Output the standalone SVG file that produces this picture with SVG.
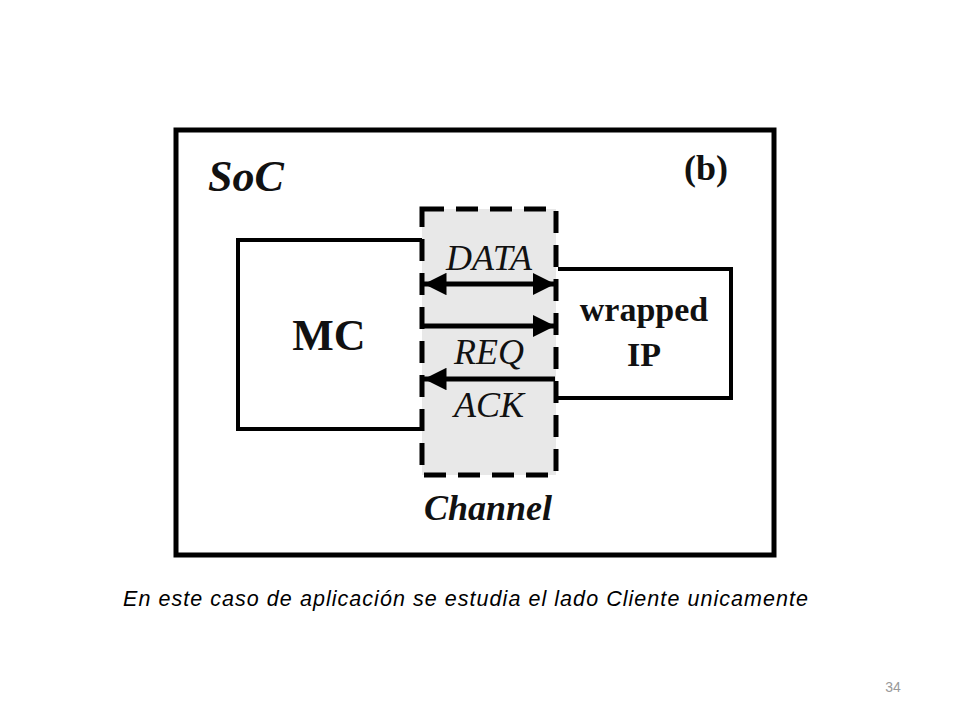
<svg xmlns="http://www.w3.org/2000/svg" width="960" height="720" viewBox="0 0 960 720">
<style>
.b{fill:none;stroke:#000;stroke-width:4}
.t{font-family:"Liberation Serif",serif;font-weight:bold;fill:#111}
.i{font-family:"Liberation Serif",serif;font-style:italic;fill:#111;font-size:36px;text-anchor:middle}
.w{stroke:#000;stroke-width:5}
</style>
<defs>
<marker id="a" viewBox="0 0 10 10" refX="10" refY="5" markerWidth="4.5" markerHeight="4.5" orient="auto-start-reverse"><path d="M0,0L10,5L0,10z" fill="#000"/></marker>
</defs>
<rect width="960" height="720" fill="#fff"/>
<g id="soc"><rect x="176" y="130" width="598" height="425" fill="#fff" stroke="#000" stroke-width="5"/>
<text x="208" y="191" class="t" font-size="44" font-style="italic">SoC</text>
<text x="684" y="180" class="t" font-size="36">(b)</text></g>
<g id="channel"><rect x="422" y="209" width="134" height="266" fill="#e8e8e8" stroke="#000" stroke-width="5" stroke-dasharray="22,12"/>
<text x="488" y="520" class="t" font-size="36" font-style="italic" text-anchor="middle">Channel</text></g>
<g id="mc"><path class="b" d="M422,240H238V429H422"/>
<text x="329" y="350" class="t" font-size="44" text-anchor="middle">MC</text></g>
<g id="ip"><path class="b" d="M558,269H731V398H558"/>
<text x="644" y="321" class="t" font-size="34" text-anchor="middle">wrapped</text>
<text x="644" y="366" class="t" font-size="34" text-anchor="middle">IP</text></g>
<g id="connectors">
<line class="w" x1="424" y1="284" x2="555" y2="284" marker-start="url(#a)" marker-end="url(#a)"/>
<line class="w" x1="424" y1="326" x2="555" y2="326" marker-end="url(#a)"/>
<line class="w" x1="555" y1="379" x2="424" y2="379" marker-end="url(#a)"/>
</g>
<text x="489" y="270" class="i">DATA</text>
<text x="489" y="364" class="i">REQ</text>
<text x="489" y="417" class="i">ACK</text>
<text x="123" y="606" font-family="Liberation Sans,Arial,sans-serif" font-style="italic" font-size="21.5" textLength="685" fill="#000">En este caso de aplicación se estudia el lado Cliente unicamente</text>
<text x="893" y="692" font-family="Liberation Sans,Arial,sans-serif" font-size="14" fill="#999" text-anchor="middle">34</text>
</svg>
